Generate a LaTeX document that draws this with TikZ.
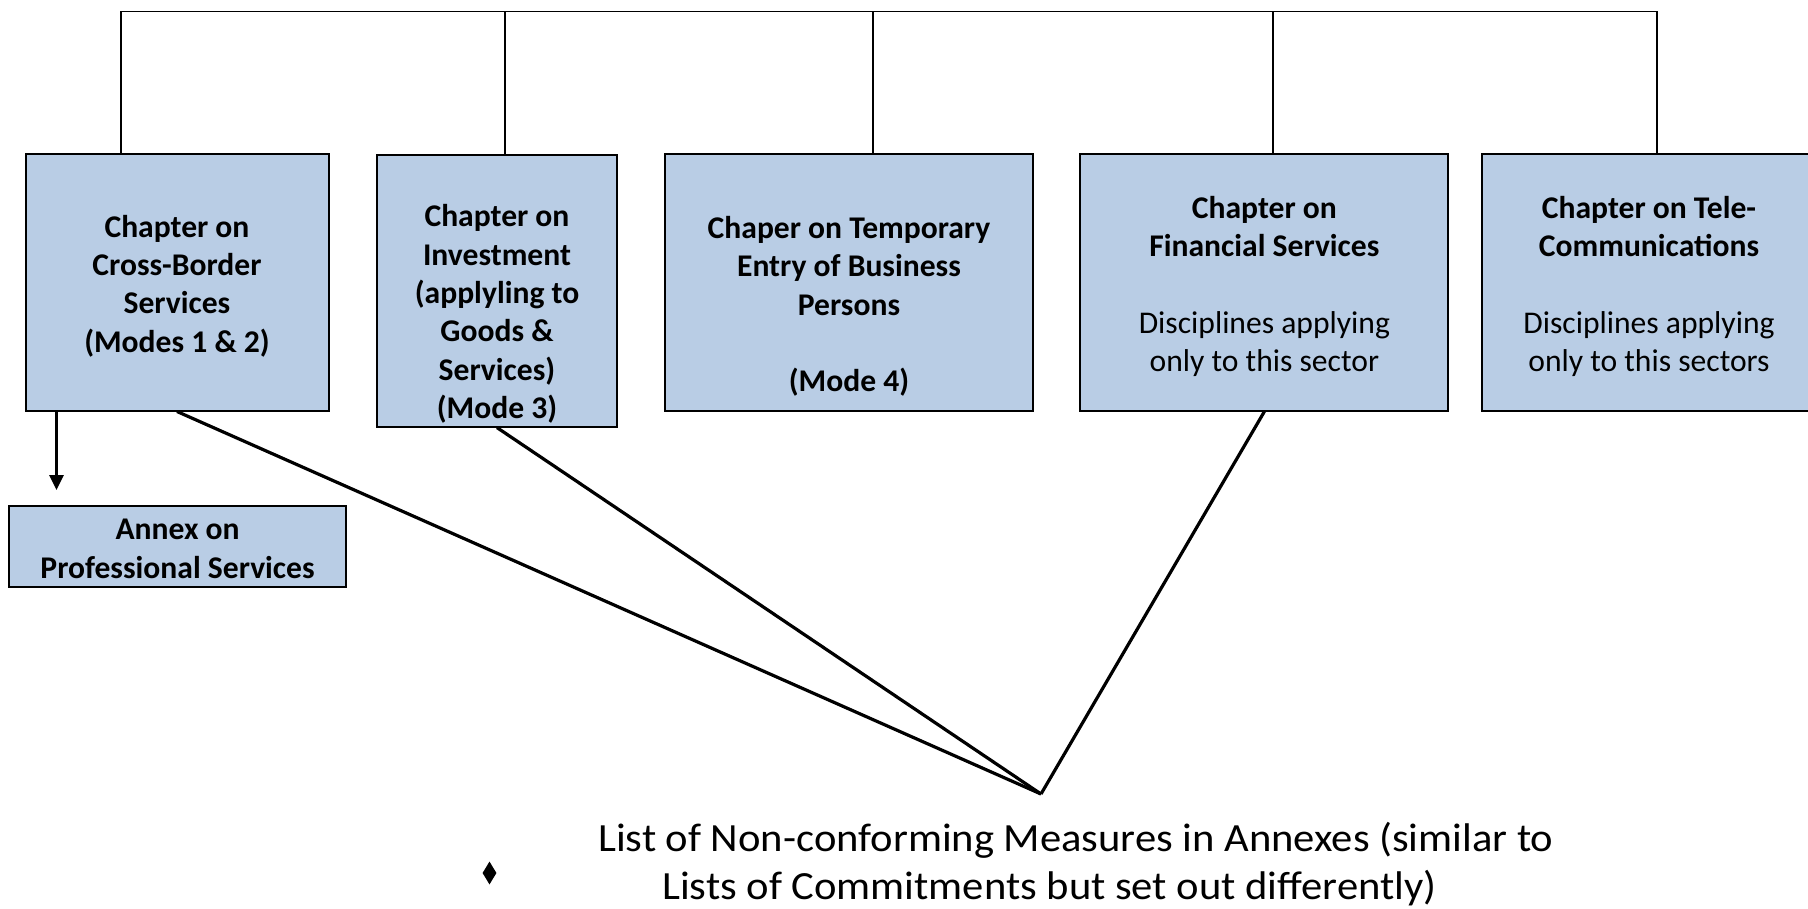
\documentclass[tikz,border=0pt]{standalone}
\usepackage{fontspec}
\setmainfont{Carlito}
\newfontfamily\listfont[FakeStretch=1.065]{Carlito}
\usetikzlibrary{arrows.meta,shapes.geometric}
\definecolor{boxfill}{HTML}{B9CDE5}
\begin{document}
\begin{tikzpicture}[x=1pt,y=-1pt,
  box/.style={draw=black, line width=2pt, fill=boxfill, rectangle, inner sep=0pt},
  lbl/.style={align=center, inner sep=0pt, font=\fontsize{31.6}{38.4}\selectfont},
  blbl/.style={lbl, font=\fontsize{31.6}{38.4}\selectfont\bfseries},
  treeline/.style={draw=black, line width=1.6pt},
  diag/.style={draw=black, line width=3.2pt},
  arrowline/.style={draw=black, line width=2.6pt, -{Triangle[width=14pt,length=15pt]}},
  listtext/.style={align=left, inner sep=0pt, font=\listfont\fontsize{40}{48.4}\selectfont},
  bullet/.style={diamond, fill=black, inner sep=0pt, minimum width=14pt, minimum height=23pt}
]
\useasboundingbox (0,0) rectangle (1808,909);

% boxes
\node[box, minimum width=303pt, minimum height=256pt] (b1) at (177,282.5) {};
\node[box, minimum width=240pt, minimum height=272pt] (b2) at (497,290.6) {};
\node[box, minimum width=368pt, minimum height=256pt] (b3) at (849,282.5) {};
\node[box, minimum width=368pt, minimum height=256pt] (b4) at (1264.4,282.5) {};
\node[box, minimum width=335pt, minimum height=256pt] (b5) at (1649,282.5) {};
\node[box, minimum width=337pt, minimum height=81pt] (annex) at (177.6,546.6) {};

% box texts
\node[blbl] (t1) at (177,286)
  {Chapter on\\Cross-Border\\Services\\(Modes 1 \& 2)};
\node[blbl] (t2) at (497,314)
  {Chapter on\\Investment\\(applyling to\\Goods \&\\Services)\\(Mode 3)};
\node[blbl] (t3) at (849,306.5)
  {Chaper on Temporary\\Entry of Business\\Persons\\[38.4pt](Mode 4)};
\node[lbl] (t4) at (1264.4,286.5)
  {\textbf{Chapter on}\\\textbf{Financial Services}\\[38.4pt]Disciplines applying\\only to this sector};
\node[lbl] (t5) at (1649,286.5)
  {\textbf{Chapter on Tele-}\\\textbf{Communications}\\[38.4pt]Disciplines applying\\only to this sectors};
\node[blbl] (tA) at (177.6,549)
  {Annex on\\Professional Services};

% tree connectors at top
\coordinate (h1) at (121,11.5);
\coordinate (h2) at (505,11.5);
\coordinate (h3) at (873,11.5);
\coordinate (h4) at (1273,11.5);
\coordinate (h5) at (1657,11.5);
\draw[treeline] (h1) -- (h5);
\draw[treeline] (h1) -- (h1 |- b1.north);
\draw[treeline] (h2) -- (h2 |- b2.north);
\draw[treeline] (h3) -- (h3 |- b3.north);
\draw[treeline] (h4) -- (h4 |- b4.north);
\draw[treeline] (h5) -- (h5 |- b5.north);

% arrow to annex
\coordinate (ax) at (56.5,0);
\coordinate (atip) at (56.5,490);
\draw[arrowline] (ax |- b1.south) -- (atip);

% converging lines
\coordinate (conv) at (1041,794);
\draw[diag] (b1.south) -- (conv);
\draw[diag] (b2.south) -- (conv);
\draw[diag] (b4.south) -- (conv);

% bottom list
\node[bullet] (bul) at (489.5,873) {};
\node[listtext, anchor=west] (list) at (598,864)
  {List of Non-conforming Measures in Annexes (similar to\\\hspace*{64pt}Lists of Commitments but set out differently)};
\end{tikzpicture}
\end{document}
